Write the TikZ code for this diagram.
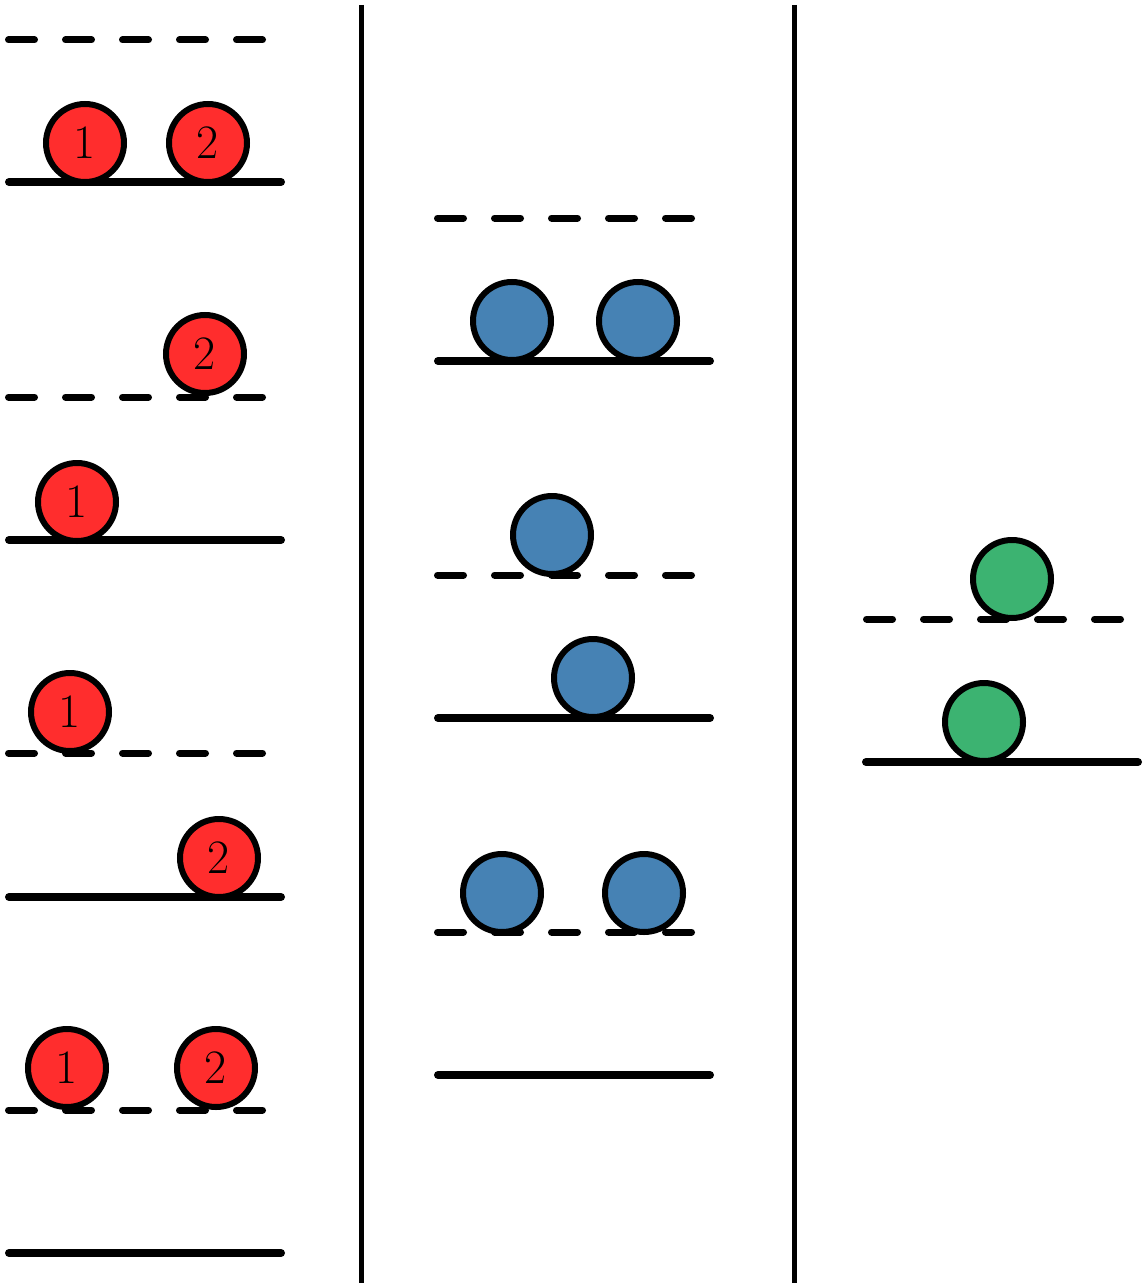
\documentclass[tikz,border=0pt]{standalone}
\begin{document}
\begin{tikzpicture}[x=0.75pt,y=-0.75pt,
  solidlvl/.style={line width=6pt,line cap=round},
  dashlvl/.style={line width=5.25pt,line cap=round,dash pattern=on 19.5pt off 23.25pt},
  sep/.style={line width=3.75pt},
  ball/.style={circle,draw,line width=4.5pt,minimum size=58.5pt,inner sep=0pt,font=\fontsize{36}{38}\selectfont},
  redball/.style={ball,fill={rgb,255:red,255;green,45;blue,45}},
  blueball/.style={ball,fill={rgb,255:red,70;green,130;blue,180}},
  greenball/.style={ball,fill={rgb,255:red,60;green,179;blue,113}}]
\useasboundingbox (0,0) rectangle (1145,1288);
% separators
\draw[sep] (361,5) -- (361,1283);
\draw[sep] (794,5) -- (794,1283);
% left column levels
\draw[dashlvl] (8.5,40) -- (262.5,40);
\draw[solidlvl] (9,182) -- (281,182);
\draw[dashlvl] (8.5,397) -- (262.5,397);
\draw[solidlvl] (9,540) -- (281,540);
\draw[dashlvl] (8.5,753) -- (262.5,753);
\draw[solidlvl] (9,897) -- (281,897);
\draw[dashlvl] (8.5,1110) -- (262.5,1110);
\draw[solidlvl] (9,1253) -- (281,1253);
% middle column levels
\draw[dashlvl] (437.5,218) -- (691.5,218);
\draw[solidlvl] (438,361) -- (710,361);
\draw[dashlvl] (437.5,575) -- (691.5,575);
\draw[solidlvl] (438,718) -- (710,718);
\draw[dashlvl] (437.5,932) -- (691.5,932);
\draw[solidlvl] (438,1075) -- (710,1075);
% right column levels
\draw[dashlvl] (866.5,619) -- (1120.5,619);
\draw[solidlvl] (866,762) -- (1138,762);
% red balls
\node[redball] (a1) at (85,143) {1};
\node[redball] (a2) at (208,143) {2};
\node[redball] (b2) at (205,354) {2};
\node[redball] (b1) at (77,502) {1};
\node[redball] (c1) at (70,712) {1};
\node[redball] (c2) at (219,858) {2};
\node[redball] (d1) at (67,1068) {1};
\node[redball] (d2) at (216,1068) {2};
% blue balls
\node[blueball] (e1) at (512,321) {};
\node[blueball] (e2) at (638,321) {};
\node[blueball] (f1) at (552,535) {};
\node[blueball] (f2) at (593,678) {};
\node[blueball] (g1) at (502,893) {};
\node[blueball] (g2) at (644,893) {};
% green balls
\node[greenball] (h1) at (1012,579) {};
\node[greenball] (h2) at (984,722) {};
\end{tikzpicture}
\end{document}
